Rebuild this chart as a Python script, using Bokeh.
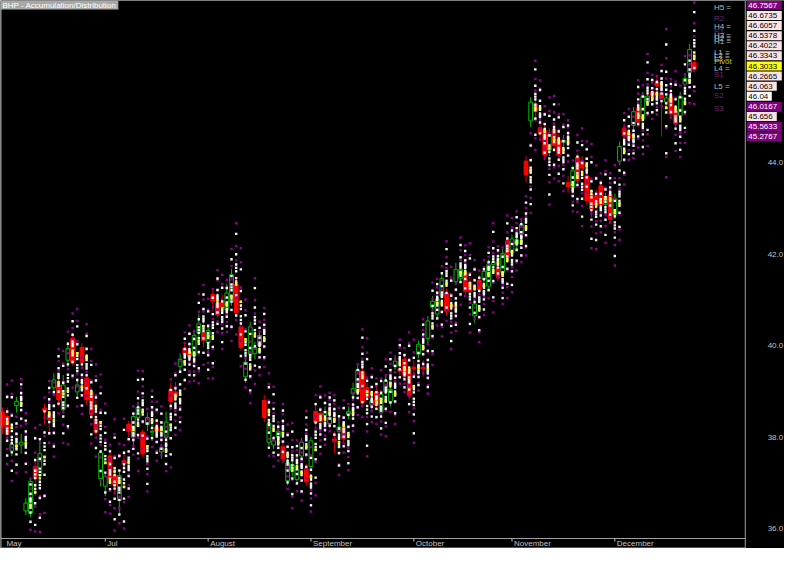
import numpy as np
from bokeh.plotting import figure
from bokeh.models import Range1d, Label
from bokeh.core.properties import value
from bokeh.embed import file_html
from bokeh.resources import INLINE

title_text = "BHP - Accumulation/Distribution"

# Daily OHLC, 31 May .. 24 Dec (bar index 0..148)
open_ = [
    38.54, 38.45, 37.70, 38.69, 37.83, 36.39, 36.34, 37.36, 37.16, 38.63,
    38.50, 39.08, 39.14, 38.60, 39.68, 40.16, 38.99, 39.96, 39.29, 38.99,
    38.39, 37.10, 36.93, 37.59, 37.16, 36.62, 37.49, 38.28, 38.00, 38.43,
    38.11, 38.28, 38.11, 38.22, 37.68, 38.00, 39.04, 38.99, 39.55, 39.94,
    39.85, 39.79, 40.28, 40.28, 40.07, 41.12, 40.93, 40.95, 40.78, 40.95,
    41.34, 40.41, 39.32, 39.81, 39.83, 40.00, 38.80, 37.89, 37.83, 38.00,
    37.79, 37.05, 37.27, 37.08, 37.59, 37.31, 37.36, 38.56, 38.52, 38.48,
    38.30, 37.96, 38.13, 38.22, 38.50, 38.95, 38.99, 39.44, 39.08, 38.71,
    38.99, 38.54, 38.99, 38.78, 39.55, 39.49, 39.70, 39.47, 39.53, 39.81,
    39.53, 40.16, 40.84, 40.69, 41.08, 41.15, 40.89, 41.40, 41.47, 41.60,
    41.38, 40.65, 41.43, 41.45, 41.30, 41.77, 41.71, 41.60, 42.29, 42.05,
    42.22, 42.44, 44.03, 44.91, 45.28, 44.76, 44.70, 44.27, 44.72, 44.48,
    44.44, 43.56, 43.45, 44.12, 44.03, 43.71, 43.30, 43.28, 43.49, 43.08,
    43.30, 42.87, 44.03, 44.74, 44.63, 44.81, 45.19, 44.96, 45.32, 45.54,
    45.75, 45.52, 45.32, 45.43, 45.13, 45.02, 45.71, 45.97, 46.18]
high = [
    38.65, 38.65, 38.00, 38.88, 38.07, 36.67, 37.12, 37.49, 37.96, 38.73,
    38.65, 39.40, 39.34, 39.36, 40.07, 40.28, 39.29, 40.05, 39.40, 39.08,
    38.82, 37.72, 37.21, 37.74, 37.36, 37.25, 37.70, 38.35, 38.54, 38.78,
    38.17, 38.54, 38.35, 38.35, 37.85, 38.56, 39.19, 39.21, 39.83, 40.07,
    40.00, 40.35, 40.69, 40.54, 40.44, 41.21, 41.15, 41.12, 41.36, 41.68,
    41.51, 40.54, 39.75, 40.52, 40.09, 40.31, 38.93, 38.39, 38.02, 38.28,
    37.89, 37.57, 37.51, 37.42, 37.98, 37.42, 38.00, 38.71, 38.60, 38.67,
    38.54, 38.13, 38.45, 38.33, 38.67, 39.19, 39.57, 39.53, 39.19, 38.93,
    39.10, 39.01, 39.36, 39.14, 39.79, 39.68, 39.83, 39.57, 39.68, 40.11,
    39.68, 40.65, 41.08, 41.12, 41.58, 41.25, 41.04, 41.81, 41.77, 41.73,
    41.51, 41.02, 41.55, 41.73, 41.88, 41.94, 41.81, 42.11, 42.37, 42.42,
    42.42, 42.76, 44.14, 45.43, 45.43, 44.91, 44.83, 44.74, 44.83, 44.61,
    44.61, 43.71, 43.92, 44.20, 44.14, 43.84, 43.41, 43.41, 43.58, 43.34,
    43.38, 43.32, 44.46, 44.85, 44.74, 45.21, 45.28, 45.54, 45.56, 45.65,
    45.86, 45.65, 45.52, 45.54, 45.26, 45.54, 45.95, 46.59, 46.26]
low = [
    38.07, 37.92, 37.59, 38.54, 37.64, 36.30, 36.26, 36.71, 37.12, 38.28,
    38.11, 38.93, 38.67, 38.54, 39.53, 39.57, 38.88, 39.53, 38.71, 38.41,
    38.05, 36.93, 36.71, 36.93, 36.78, 36.34, 37.21, 38.00, 37.81, 38.22,
    37.57, 38.13, 37.92, 38.00, 37.53, 37.92, 38.67, 38.71, 39.42, 39.66,
    39.64, 39.70, 40.11, 39.96, 39.79, 40.76, 40.61, 40.74, 40.69, 40.87,
    40.65, 39.90, 39.19, 39.75, 39.70, 39.88, 38.33, 37.81, 37.74, 37.87,
    37.42, 36.95, 37.14, 36.99, 37.49, 36.95, 37.27, 38.22, 38.24, 38.39,
    38.20, 37.64, 38.07, 37.85, 38.39, 38.82, 38.93, 38.67, 38.80, 38.60,
    38.63, 38.45, 38.93, 38.67, 39.47, 39.36, 39.25, 38.82, 39.36, 39.72,
    39.32, 40.05, 40.74, 40.61, 41.00, 40.65, 40.69, 41.32, 41.40, 41.08,
    41.08, 40.50, 41.15, 41.36, 41.23, 41.71, 41.40, 41.51, 41.83, 41.99,
    42.11, 42.33, 43.56, 44.78, 45.00, 44.53, 44.05, 44.14, 44.27, 44.05,
    44.31, 43.34, 43.36, 43.49, 43.77, 43.08, 42.80, 42.98, 42.98, 42.98,
    42.65, 42.76, 43.94, 44.48, 44.44, 44.72, 44.78, 44.87, 45.24, 45.37,
    45.56, 44.57, 45.24, 44.96, 44.74, 44.91, 45.60, 45.85, 45.97]
close = [
    38.24, 38.07, 37.85, 38.78, 37.89, 36.56, 37.03, 37.10, 37.64, 38.58,
    38.39, 39.25, 38.82, 39.14, 39.94, 39.64, 39.14, 39.64, 38.82, 38.50,
    38.11, 37.66, 37.14, 37.10, 36.95, 37.16, 37.42, 38.13, 38.45, 38.65,
    37.64, 38.43, 38.13, 38.13, 37.77, 38.33, 38.78, 38.88, 39.70, 39.81,
    39.75, 40.22, 40.48, 40.11, 40.33, 40.97, 40.67, 40.84, 41.15, 41.55,
    40.72, 39.96, 39.64, 40.41, 39.96, 40.22, 38.43, 38.30, 37.92, 38.13,
    37.53, 37.44, 37.40, 37.29, 37.89, 37.03, 37.92, 38.33, 38.35, 38.56,
    38.43, 37.92, 38.22, 37.96, 38.56, 39.06, 39.47, 38.76, 38.88, 38.80,
    38.71, 38.93, 39.23, 39.04, 39.66, 39.44, 39.36, 38.91, 39.49, 40.03,
    39.49, 40.54, 40.97, 41.02, 41.47, 40.76, 40.84, 41.66, 41.66, 41.19,
    41.19, 40.91, 41.23, 41.62, 41.77, 41.83, 41.49, 42.01, 41.92, 42.33,
    42.31, 42.65, 43.73, 45.32, 45.11, 44.63, 44.16, 44.61, 44.37, 44.16,
    44.48, 43.47, 43.82, 43.60, 43.88, 43.17, 42.98, 43.08, 43.08, 43.26,
    42.76, 43.21, 44.35, 44.59, 44.53, 45.11, 44.89, 45.45, 45.45, 45.45,
    45.67, 45.39, 45.41, 45.06, 44.85, 45.45, 45.84, 46.47, 46.04]

month_names = ["May", "Jul", "August", "September", "October", "November", "December"]
month_start = [0.42, 22, 44, 66, 88, 109, 131]
month_has_tick = [False, True, True, True, True, True, True]

price_ticks = [36, 38, 40, 42, 44]

last_value_text = ["46.7567", "46.6735", "46.6057", "46.5378", "46.4022", "46.3343", "46.3033",
                   "46.2665", "46.063", "46.04", "46.0167", "45.656", "45.5633", "45.2767"]
last_value_kind = ["R", "H", "H", "H", "L", "L", "P", "L", "L", "C", "S", "L", "S", "S"]

level_text_keys = ["H5", "R2", "H4", "R1", "H3", "H2", "H1", "L1", "Pivot", "L2", "L3", "L4",
                   "S1", "L5", "S2", "S3"]

# ---------------------------------------------------------------- styling / layout
FONT = "Liberation Sans"
GREEN = "#00b800"
RED = "#ff0000"
RED_WICK = "#e00000"
EDGE_GRAY = "#a0a0a0"
TXT_GRAY = "#c0c0c0"
PURPLE = "#900090"

n = min(len(open_), len(high), len(low), len(close))
idx = np.arange(n, dtype=float)
o = np.array(open_[:n]); h = np.array(high[:n]); l = np.array(low[:n]); c = np.array(close[:n])

W, H = 784, 548
X0, X1 = -0.42, 167.30          # full canvas width in bar units
XP = 158.91                     # right edge of the price pane
Y0, Y1 = 35.569, 47.539
px_x = (X1 - X0) / W
px_y = (Y1 - Y0) / H

p = figure(frame_width=W, frame_height=H, x_range=Range1d(X0, X1), y_range=Range1d(Y0, Y1),
           output_backend="svg", toolbar_location=None,
           x_axis_location=None, y_axis_location=None,
           background_fill_color="black", border_fill_color="black", outline_line_color=None,
           min_border_left=0, min_border_top=0, min_border_bottom=0, min_border_right=0)
p.grid.visible = False

# ---------------------------------------------------------------- candles
up = c >= o
p.segment(x0=idx, y0=l, x1=idx, y1=h, line_color=list(np.where(up, GREEN, RED_WICK)), line_width=1)
p.vbar(x=idx, top=np.maximum(o, c), bottom=np.minimum(o, c), width=0.8,
       fill_color=list(np.where(up, "black", RED)), line_color=list(np.where(up, GREEN, RED)),
       line_width=1)

# ---------------------------------------------------------------- pivot dots (from previous bar)
Hp, Lp, Cp = h[:-1], l[:-1], c[:-1]
rng = Hp - Lp
piv = (Hp + Lp + Cp) / 3.0
levels = {
    "Pivot": piv,
    "R1": 2 * piv - Lp, "S1": 2 * piv - Hp,
    "R2": piv + rng, "S2": piv - rng,
    "R3": Hp + 2 * (piv - Lp), "S3": Lp - 2 * (Hp - piv),
}
cam_factor = {"1": 1.0 / 12, "2": 1.0 / 6, "3": 1.0 / 4, "4": 1.0 / 2, "5": 1.0}
for kf, f in cam_factor.items():
    levels["H" + kf] = Cp + rng * 1.1 * f
    levels["L" + kf] = Cp - rng * 1.1 * f


def dot_color(key):
    if key == "Pivot":
        return "#ffff00"
    if key[0] in "RS":
        return PURPLE
    if key[0] == "H":
        return "#ffffff"
    return "#f0f0f0"


dx, dy, dc = [], [], []
order = ["R3", "S3", "R2", "S2", "R1", "S1", "H5", "L5", "H4", "L4", "H3", "L3", "H2", "L2",
         "H1", "L1", "Pivot"]
for key in order:
    vals = levels[key]
    dx.extend(idx[1:])
    dy.extend(vals)
    dc.extend([dot_color(key)] * len(vals))
p.scatter(x=dx, y=dy, marker="square", size=2.4, fill_color=dc, line_color=None)

# ---------------------------------------------------------------- level names next to last bar
last = {k: v[-1] for k, v in levels.items()}
lx = 152.2
groups = {"bottom": [], "middle": [], "top": []}
for key in level_text_keys:
    if key == "Pivot":
        name, col, base = "Pivot", "#c8c800", "top"
    elif key[0] in "RS":
        name, col = key, "#6a2a6a"
        base = "bottom" if key[0] == "R" else "top"
    else:
        name, col = key + " =", "#b8b8b8"
        base = "bottom" if key[0] == "H" else "middle"
    groups[base].append((last[key], name, col))
for base, items in groups.items():
    if items:
        p.text(x=[lx] * len(items), y=[it[0] for it in items], text=[it[1] for it in items],
               text_color=[it[2] for it in items], text_baseline=base, text_align="left",
               text_font=value(FONT), text_font_size="8px")

# ---------------------------------------------------------------- right price pane (cover + scale)
p.quad(left=XP, right=X1, bottom=Y0, top=Y1, fill_color="black", line_color=None)
p.text(x=[163.7] * len(price_ticks), y=price_ticks, text=["%.1f" % t for t in price_ticks],
       text_baseline="middle", text_align="left", text_color=TXT_GRAY,
       text_font=value(FONT), text_font_size="8px")

# ---------------------------------------------------------------- date strip
strip_top = Y0 + 10 * px_y
p.quad(left=X0, right=XP, bottom=Y0, top=strip_top, fill_color="black", line_color=None)
p.segment(x0=[X0, X0], y0=[strip_top, Y0 + 0.5 * px_y], x1=[XP, XP],
          y1=[strip_top, Y0 + 0.5 * px_y], line_color=EDGE_GRAY, line_width=1)
tick_x = [m for m, t in zip(month_start, month_has_tick) if t]
p.segment(x0=tick_x, y0=[strip_top] * len(tick_x), x1=tick_x,
          y1=[strip_top - 3 * px_y] * len(tick_x), line_color=TXT_GRAY, line_width=1)
p.text(x=month_start, y=[strip_top - 5 * px_y] * len(month_start), text=month_names,
       x_offset=2, text_baseline="middle", text_align="left", text_color=TXT_GRAY,
       text_font=value(FONT), text_font_size="8px")

# pane edges
p.segment(x0=[X0 + 0.5 * px_x, XP], y0=[Y0, Y0], x1=[X0 + 0.5 * px_x, XP], y1=[Y1, Y1],
          line_color=EDGE_GRAY, line_width=1)

# ---------------------------------------------------------------- last-value boxes
box_style = {"R": ("#800080", "#ffffff"), "S": ("#800080", "#ffffff"),
             "H": ("#fde4e4", "#000000"), "L": ("#fde4e4", "#000000"),
             "P": ("#ffff00", "#000000"), "C": ("#ffffff", "#000000")}
bl = XP + 1.5 * px_x
b_left, b_right, b_top, b_bot, b_fill, t_y, t_col = [], [], [], [], [], [], []
for i, (t, kind) in enumerate(zip(last_value_text, last_value_kind)):
    bg, fg = box_style[kind]
    top = Y1 - (0.3 + i * 10.11) * px_y
    b_left.append(bl)
    b_right.append(bl + (5.0 * len(t)) * px_x)
    b_top.append(top)
    b_bot.append(top - 9 * px_y)
    b_fill.append(bg)
    t_y.append(top - 4.6 * px_y)
    t_col.append(fg)
p.quad(left=b_left, right=b_right, top=b_top, bottom=b_bot, fill_color=b_fill, line_color=None)
p.text(x=[bl + 1.5 * px_x] * len(t_y), y=t_y, text=last_value_text, text_color=t_col,
       text_baseline="middle", text_align="left", text_font=value(FONT), text_font_size="8px")

# ---------------------------------------------------------------- title
p.add_layout(Label(x=X0, y=Y1, x_units="data", y_units="data", text=title_text,
                   text_baseline="top", text_align="left", text_font=FONT,
                   text_font_size="8px", text_color="#ffffff",
                   background_fill_color="#a8a8a8", padding=(2, 0)))

open("out.html", "w").write(file_html(p, INLINE))
